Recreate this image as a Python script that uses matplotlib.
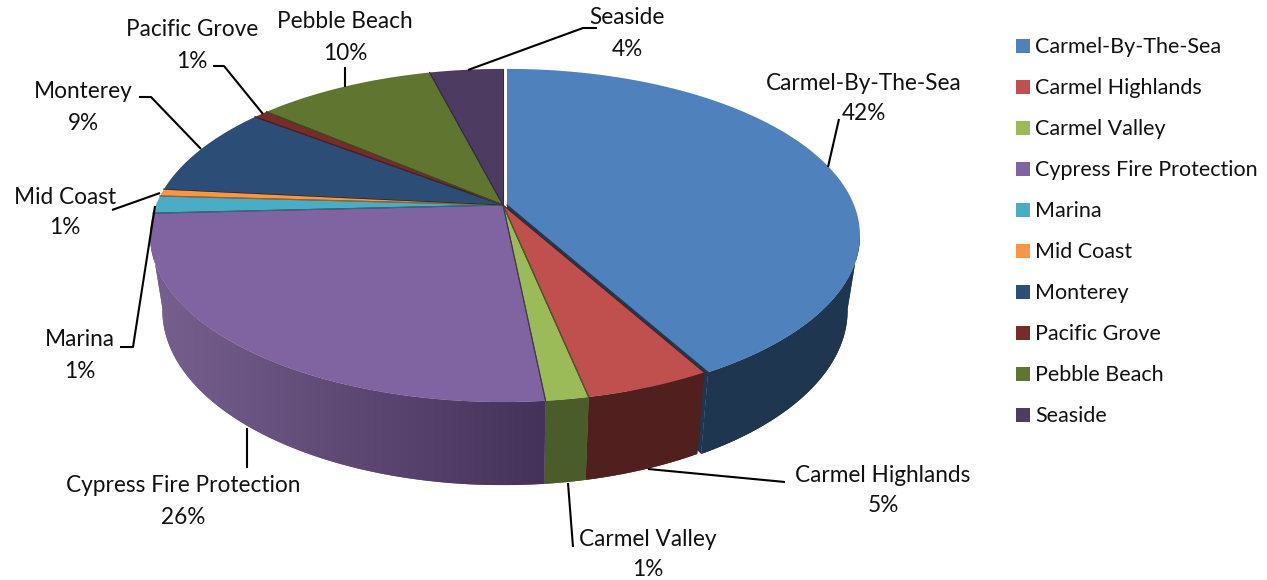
import numpy as np
import matplotlib
matplotlib.use("Agg")
import matplotlib.pyplot as plt
from matplotlib.colors import to_rgb
from matplotlib.patches import Polygon

## chart data
names = ["Carmel-By-The-Sea", "Carmel Highlands", "Carmel Valley", "Cypress Fire Protection", "Marina",
	"Mid Coast", "Monterey", "Pacific Grove", "Pebble Beach", "Seaside"]
shares = [41.9, 4.85, 1.65, 25.8, 1.7, 0.7, 8.8, 0.8, 9.8, 4.0]
percentLabels = ["42%", "5%", "1%", "26%", "1%", "1%", "9%", "1%", "10%", "4%"]

## colours
topColours = ["#4f81bd", "#c0504d", "#9bbb59", "#8064a2", "#4bacc6", "#f79646", "#2c4d75", "#772c2a", "#5f7530", "#4d3b62"]
wallDark = ["#1f3650", "#51201e", "#4b5c2b", "#45325a", "#2e6f80", "#a0601f", "#1d3350", "#4f1c1c", "#3f4e20", "#33274a"]
wallLight = ["#1f3650", "#51201e", "#4b5c2b", "#77608f", "#2e6f80", "#a0601f", "#1d3350", "#4f1c1c", "#3f4e20", "#33274a"]

## pie geometry in pixels
cx, cy = 503.0, 205.0
R, S, k = 347.0, 161.0, 0.183
depth, shrink = 73.5, 0.035


def project(t, z, offset):
	## t is clockwise from the top, z is 0 on the top face and 1 at the bottom
	u, v = np.sin(t), np.cos(t)
	w = 1 + k * v
	s = 1 - shrink * z
	return cx + offset + s * R * u / w, cy - s * S * v / w + depth * z / w


def gradientWall(ax, x, y, lightCol, darkCol):
	## one polygon filled with a left to right gradient, no seams between slices of it
	f = np.linspace(0, 1, 256)[:, None]
	a, b = np.array(to_rgb(lightCol)), np.array(to_rgb(darkCol))
	img = (a + (b - a) * f)[None, :, :]
	poly = Polygon(np.c_[x, y], closed=True, facecolor=lightCol, edgecolor="none", zorder=2)
	ax.add_patch(poly)
	im = ax.imshow(img, extent=[x.min(), x.max(), y.max(), y.min()], aspect="auto", zorder=2, interpolation="bilinear")
	im.set_clip_path(poly)


fig = plt.figure(figsize=(12.67, 5.8), dpi=100)
ax = fig.add_axes([0, 0, 1, 1])
plt.rcParams["font.family"] = ["Lato", "DejaVu Sans"]

edges = np.radians(np.cumsum([0] + shares) * 3.6)

## inner face of the pulled out first slice, shows in the gap next to Carmel Highlands
rimX0, rimY0 = project(edges[1], 0, 4.0)
rimX1, rimY1 = project(edges[1], 1, 4.0)
ax.add_patch(Polygon([[cx + 4.0, cy], [rimX0, rimY0], [rimX1, rimY1], [cx + 4.0, cy + depth]],
	closed=True, facecolor=wallDark[0], edgecolor="none", zorder=1))

## walls first, tops go over them
## the wall starts at the rim's widest point so the outline runs straight down from there
for i in range(len(shares)):
	off = 4.0 if i == 0 else 0.0
	ts = np.linspace(edges[i], edges[i + 1], 200)
	ts = ts[np.cos(ts) < -0.17]
	if len(ts) < 2:
		continue
	x0, y0 = project(ts, 0, off)
	x1, y1 = project(ts, 1, off)
	gradientWall(ax, np.r_[x0, x1[::-1]], np.r_[y0, y1[::-1]], wallLight[i], wallDark[i])

for i in range(len(shares)):
	off = 4.0 if i == 0 else 0.0
	ts = np.linspace(edges[i], edges[i + 1], 200)
	x, y = project(ts, 0, off)
	ax.fill(np.r_[cx + off, x], np.r_[cy, y], facecolor=topColours[i], edgecolor="none", zorder=3)
	if i > 0:
		ax.plot([cx + off, x[0]], [cy, y[0]], color=wallDark[i], lw=0.8, zorder=4)
	ax.plot([cx + off, x[-1]], [cy, y[-1]], color=wallDark[i], lw=0.8, zorder=4)

## leader lines
leaderX = [[839, 828], [785, 648], [573, 568], [247, 247], [120, 133, 155], [112, 160], [139, 151, 201], [213, 224, 263], [345, 345], [597, 583, 468]]
leaderY = [[119, 167], [482, 469], [547, 483], [468, 428], [347, 347, 206], [210, 193], [97, 97, 149], [66, 66, 114], [67, 87], [28, 28, 70]]
for lx, ly in zip(leaderX, leaderY):
	ax.plot(lx, ly, color="black", lw=1.5, zorder=5, solid_capstyle="butt")

## data labels
labelX = [864, 883, 648, 183, 80, 65, 83, 192, 345, 627]
labelY = [83, 475, 539, 486, 340, 197, 92, 30, 22, 18]
for i in range(len(names)):
	ax.text(labelX[i], labelY[i], names[i], ha="center", va="center", fontsize=16.3, color="#111111", zorder=6)
	ax.text(labelX[i], labelY[i] + 31, percentLabels[i], ha="center", va="center", fontsize=16.3, color="#111111", zorder=6)

## legend
for i in range(len(names)):
	yy = 46 + 41 * i
	ax.fill([1016, 1030, 1030, 1016], [yy - 7, yy - 7, yy + 7, yy + 7], color=topColours[i], lw=0)
	ax.text(1035, yy + 1, names[i], ha="left", va="center", fontsize=15.5, color="#111111")

ax.set_xlim(0, 1267)
ax.set_ylim(580, 0)
ax.axis("off")

plt.savefig("out.png", dpi=100)
